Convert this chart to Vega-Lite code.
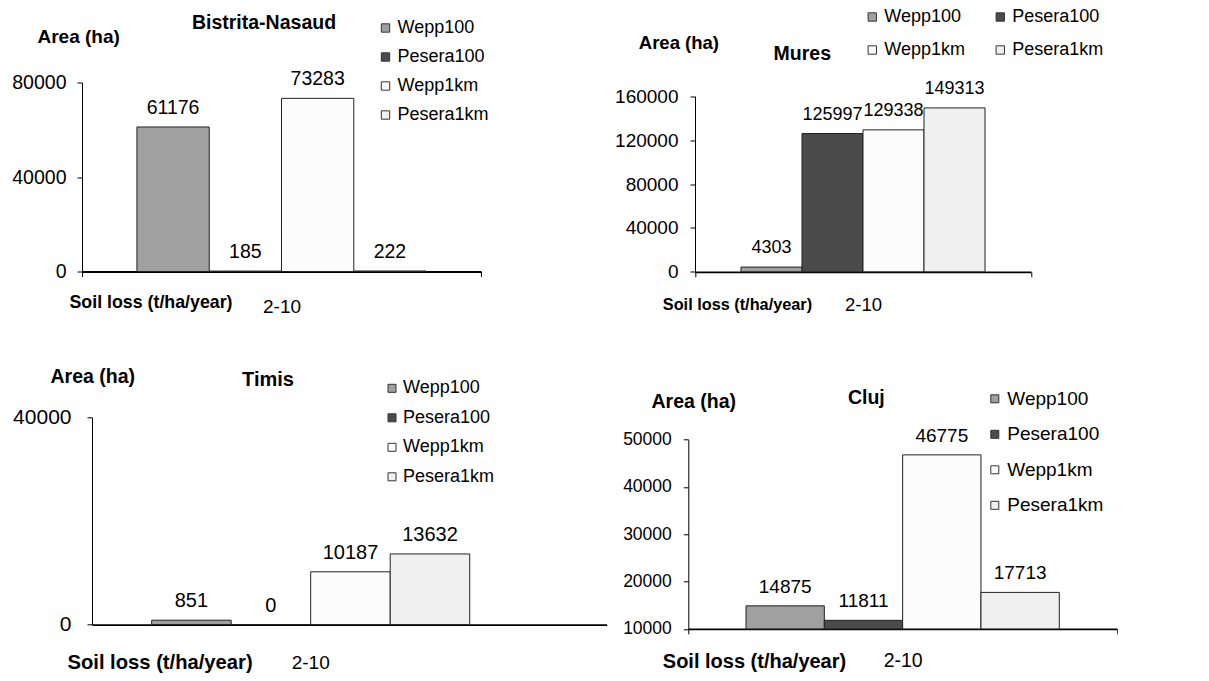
{
  "$schema": "https://vega.github.io/schema/vega-lite/v6.json",
  "background": "white",
  "padding": {"left": 11, "top": 7.5, "right": 0, "bottom": 0},
  "config": {
    "font": "Liberation Sans",
    "view": {"stroke": null},
    "axis": {"grid": false, "domainColor": "black", "tickColor": "black", "labelColor": "black", "titleColor": "black", "labelFont": "Liberation Sans", "titleFont": "Liberation Sans"},
    "legend": {"labelFont": "Liberation Sans", "labelColor": "black"},
    "title": {"font": "Liberation Sans", "color": "black"}
  },
  "datasets": {
    "d": [
      {"region": "Bistrita-Nasaud", "soil": "2-10", "series": "Wepp100", "area": 61176},
      {"region": "Bistrita-Nasaud", "soil": "2-10", "series": "Pesera100", "area": 185},
      {"region": "Bistrita-Nasaud", "soil": "2-10", "series": "Wepp1km", "area": 73283},
      {"region": "Bistrita-Nasaud", "soil": "2-10", "series": "Pesera1km", "area": 222},
      {"region": "Mures", "soil": "2-10", "series": "Wepp100", "area": 4303},
      {"region": "Mures", "soil": "2-10", "series": "Pesera100", "area": 125997},
      {"region": "Mures", "soil": "2-10", "series": "Wepp1km", "area": 129338},
      {"region": "Mures", "soil": "2-10", "series": "Pesera1km", "area": 149313},
      {"region": "Timis", "soil": "2-10", "series": "Wepp100", "area": 851},
      {"region": "Timis", "soil": "2-10", "series": "Pesera100", "area": 0},
      {"region": "Timis", "soil": "2-10", "series": "Wepp1km", "area": 10187},
      {"region": "Timis", "soil": "2-10", "series": "Pesera1km", "area": 13632},
      {"region": "Cluj", "soil": "2-10", "series": "Wepp100", "area": 14875},
      {"region": "Cluj", "soil": "2-10", "series": "Pesera100", "area": 11811},
      {"region": "Cluj", "soil": "2-10", "series": "Wepp1km", "area": 46775},
      {"region": "Cluj", "soil": "2-10", "series": "Pesera1km", "area": 17713}
    ]
  },
  "columns": 2,
  "bounds": "flush",
  "align": "all",
  "spacing": {"row": 122.8, "column": 81.3},
  "resolve": {"scale": {"fill": "independent", "xOffset": "independent", "x": "independent", "y": "independent"}},
  "concat": [
    {
      "width": 399, "height": 189,
      "data": {"name": "d"},
      "transform": [{"filter": "datum.region === 'Bistrita-Nasaud'"}],
      "title": {"text": "Bistrita-Nasaud", "anchor": "start", "frame": "group", "align": "center", "baseline": "middle", "dx": 182, "dy": 23, "offset": 0, "fontSize": 19.5, "fontWeight": "bold"},
      "encoding": {
        "x": {"field": "soil", "type": "nominal", "scale": {"paddingInner": 0, "paddingOuter": 0},
          "axis": {"title": "Soil loss (t/ha/year)", "titleX": -13, "titleY": 31, "titleAlign": "left", "titleBaseline": "middle", "titleFontSize": 17.8, "titleFontWeight": "bold", "labelAngle": 0, "labelFontSize": 19, "labelBaseline": "middle", "labelPadding": 30, "ticks": true, "tickBand": "extent", "tickSize": 5, "domainWidth": 1.8}},
        "xOffset": {"field": "series", "type": "nominal", "scale": {"domain": ["Wepp100", "Pesera100", "Wepp1km", "Pesera1km"], "paddingInner": 0, "paddingOuter": 0.76}},
        "y": {"field": "area", "type": "quantitative", "scale": {"domain": [0, 80000], "nice": false},
          "axis": {"title": "Area (ha)", "titleAngle": 0, "titleX": -45, "titleY": -46, "titleAlign": "left", "titleBaseline": "middle", "titleFontSize": 19, "titleFontWeight": "bold", "values": [0, 40000, 80000], "format": "d", "labelFontSize": 19.5, "labelPadding": 11, "tickSize": 5, "domainWidth": 1}}
      },
      "layer": [
        {"mark": {"type": "bar", "stroke": "#222", "strokeWidth": 1},
          "encoding": {"fill": {"field": "series", "type": "nominal", "scale": {"domain": ["Wepp100", "Pesera100", "Wepp1km", "Pesera1km"], "range": ["#a0a0a0", "#4b4b4b", "#fcfcfc", "#f0f0f0"]},
            "legend": {"orient": "none", "legendX": 294.5, "legendY": -63.5, "title": null, "padding": 0, "symbolType": "square", "symbolSize": 70, "symbolStrokeColor": "#333", "symbolStrokeWidth": 1, "labelFontSize": 18, "labelOffset": 3, "rowPadding": 11}}}},
        {"mark": {"type": "text", "baseline": "middle", "dy": -19, "fontSize": 19.5},
          "encoding": {"text": {"field": "area", "type": "quantitative", "format": "d"}}}
      ]
    },
    {
      "width": 342.7, "height": 189.3,
      "data": {"name": "d"},
      "transform": [{"filter": "datum.region === 'Mures'"}],
      "title": {"text": "Mures", "anchor": "start", "frame": "group", "align": "center", "baseline": "middle", "dx": 114, "dy": 65.5, "offset": 0, "fontSize": 19.5, "fontWeight": "bold"},
      "encoding": {
        "x": {"field": "soil", "type": "nominal", "scale": {"range": [6.7, 342.7], "paddingInner": 0, "paddingOuter": 0},
          "axis": {"title": "Soil loss (t/ha/year)", "titleX": -26, "titleY": 32.7, "titleAlign": "left", "titleBaseline": "middle", "titleFontSize": 16.3, "titleFontWeight": "bold", "labelAngle": 0, "labelFontSize": 18.5, "labelBaseline": "middle", "labelPadding": 28, "ticks": true, "tickBand": "extent", "tickSize": 5, "domainWidth": 1.8}},
        "xOffset": {"field": "series", "type": "nominal", "scale": {"domain": ["Wepp100", "Pesera100", "Wepp1km", "Pesera1km"], "paddingInner": 0, "paddingOuter": 0.754}},
        "y": {"field": "area", "type": "quantitative", "scale": {"domain": [0, 160000], "nice": false, "range": [189.3, 13.7]},
          "axis": {"title": "Area (ha)", "titleAngle": 0, "titleX": -56.7, "titleY": -40, "titleAlign": "left", "titleBaseline": "middle", "titleFontSize": 18.5, "titleFontWeight": "bold", "values": [0, 40000, 80000, 120000, 160000], "format": "d", "labelFontSize": 19, "labelPadding": 12, "tickSize": 5, "domainWidth": 1, "offset": -6.7}}
      },
      "layer": [
        {"mark": {"type": "bar", "stroke": "#222", "strokeWidth": 1},
          "encoding": {"fill": {"field": "series", "type": "nominal", "scale": {"domain": ["Wepp100", "Wepp1km", "Pesera100", "Pesera1km"], "range": ["#a0a0a0", "#fcfcfc", "#4b4b4b", "#f0f0f0"]},
            "legend": {"orient": "none", "legendX": 175, "legendY": -74.5, "columns": 2, "columnPadding": 26, "title": null, "padding": 0, "symbolType": "square", "symbolSize": 70, "symbolStrokeColor": "#333", "symbolStrokeWidth": 1, "labelFontSize": 18, "labelOffset": 3, "rowPadding": 15}}}},
        {"mark": {"type": "text", "baseline": "middle", "dy": -19, "fontSize": 18},
          "encoding": {"text": {"field": "area", "type": "quantitative", "format": "d"}}}
      ]
    },
    {
      "width": 524.7, "height": 207.3,
      "data": {"name": "d"},
      "transform": [{"filter": "datum.region === 'Timis'"}],
      "title": {"text": "Timis", "anchor": "start", "frame": "group", "align": "center", "baseline": "middle", "dx": 186, "dy": 33.6, "offset": 0, "fontSize": 20, "fontWeight": "bold"},
      "encoding": {
        "x": {"field": "soil", "type": "nominal", "scale": {"range": [10, 524.7], "paddingInner": 0, "paddingOuter": 0.0884, "align": 0},
          "axis": {"title": "Soil loss (t/ha/year)", "titleX": -15, "titleY": 38, "titleAlign": "left", "titleBaseline": "middle", "titleFontSize": 20.2, "titleFontWeight": "bold", "labelAngle": 0, "labelFontSize": 19, "labelBaseline": "middle", "labelPadding": 38, "ticks": false, "domainWidth": 1.8}},
        "xOffset": {"field": "series", "type": "nominal", "scale": {"domain": ["Wepp100", "Pesera100", "Wepp1km", "Pesera1km"], "paddingInner": 0, "paddingOuter": 0.75}},
        "y": {"field": "area", "type": "quantitative", "scale": {"domain": [0, 40000], "nice": false},
          "axis": {"title": "Area (ha)", "titleAngle": 0, "titleX": -42, "titleY": -41, "titleAlign": "left", "titleBaseline": "middle", "titleFontSize": 19.5, "titleFontWeight": "bold", "values": [0, 40000], "format": "d", "labelFontSize": 21, "labelPadding": 16, "tickSize": 5, "domainWidth": 1, "offset": -10}}
      },
      "layer": [
        {"mark": {"type": "bar", "stroke": "#222", "strokeWidth": 1},
          "encoding": {"fill": {"field": "series", "type": "nominal", "scale": {"domain": ["Wepp100", "Pesera100", "Wepp1km", "Pesera1km"], "range": ["#a0a0a0", "#4b4b4b", "#fcfcfc", "#f0f0f0"]},
            "legend": {"orient": "none", "legendX": 301, "legendY": -38, "title": null, "padding": 0, "symbolType": "square", "symbolSize": 64, "symbolStrokeColor": "#333", "symbolStrokeWidth": 1, "labelFontSize": 18, "labelOffset": 2, "rowPadding": 11.5}}}},
        {"mark": {"type": "text", "baseline": "middle", "dy": -19, "fontSize": 20},
          "encoding": {"text": {"field": "area", "type": "quantitative", "format": "d"}}}
      ]
    },
    {
      "width": 428.7, "height": 211.6,
      "data": {"name": "d"},
      "transform": [{"filter": "datum.region === 'Cluj'"}],
      "title": {"text": "Cluj", "anchor": "start", "frame": "group", "align": "center", "baseline": "middle", "dx": 178, "dy": 28, "offset": 0, "fontSize": 19.5, "fontWeight": "bold"},
      "encoding": {
        "x": {"field": "soil", "type": "nominal", "scale": {"paddingInner": 0, "paddingOuter": 0},
          "axis": {"title": "Soil loss (t/ha/year)", "titleX": -26, "titleY": 32.4, "titleAlign": "left", "titleBaseline": "middle", "titleFontSize": 20, "titleFontWeight": "bold", "labelAngle": 0, "labelFontSize": 19.5, "labelBaseline": "middle", "labelPadding": 27, "ticks": true, "tickBand": "extent", "tickSize": 5, "domainWidth": 1.8}},
        "xOffset": {"field": "series", "type": "nominal", "scale": {"domain": ["Wepp100", "Pesera100", "Wepp1km", "Pesera1km"], "paddingInner": 0, "paddingOuter": 0.737}},
        "y": {"field": "area", "type": "quantitative", "scale": {"domain": [10000, 50000], "nice": false, "zero": false, "range": [211.6, 22.3]},
          "axis": {"title": "Area (ha)", "titleAngle": 0, "titleX": -37.3, "titleY": -16, "titleAlign": "left", "titleBaseline": "middle", "titleFontSize": 19.5, "titleFontWeight": "bold", "values": [10000, 20000, 30000, 40000, 50000], "format": "d", "labelFontSize": 17.5, "labelPadding": 12, "tickSize": 5, "domainWidth": 1}}
      },
      "layer": [
        {"mark": {"type": "bar", "stroke": "#222", "strokeWidth": 1},
          "encoding": {"y2": {"datum": 10000}, "fill": {"field": "series", "type": "nominal", "scale": {"domain": ["Wepp100", "Pesera100", "Wepp1km", "Pesera1km"], "range": ["#a0a0a0", "#4b4b4b", "#fcfcfc", "#f0f0f0"]},
            "legend": {"orient": "none", "legendX": 297, "legendY": -28, "title": null, "padding": 0, "symbolType": "square", "symbolSize": 64, "symbolStrokeColor": "#333", "symbolStrokeWidth": 1, "labelFontSize": 19, "labelOffset": 3, "rowPadding": 15.5}}}},
        {"mark": {"type": "text", "baseline": "middle", "dy": -19, "fontSize": 19},
          "encoding": {"text": {"field": "area", "type": "quantitative", "format": "d"}}}
      ]
    }
  ]
}
